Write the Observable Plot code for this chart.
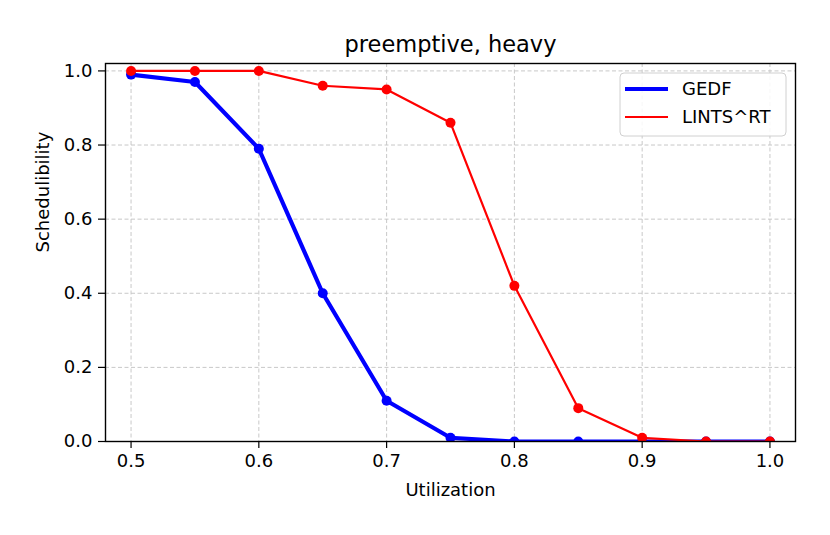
<!DOCTYPE html>
<html>
<head>
<meta charset="utf-8">
<script src="https://cdn.jsdelivr.net/npm/d3@7"></script>
<script src="https://cdn.jsdelivr.net/npm/@observablehq/plot@0.6"></script>
<style>
  body { margin: 0; background: #fff; }
  #chart { width: 830px; height: 535px; }
</style>
</head>
<body>
<div id="chart"></div>
<script>
const utilization = [0.5, 0.55, 0.6, 0.65, 0.7, 0.75, 0.8, 0.85, 0.9, 0.95, 1.0];
const gedf = [0.99, 0.97, 0.79, 0.40, 0.11, 0.01, 0, 0, 0, 0, 0];
const lints = [1.0, 1.0, 1.0, 0.96, 0.95, 0.86, 0.42, 0.09, 0.01, 0, 0];
const xTicks = [0.5, 0.6, 0.7, 0.8, 0.9, 1.0];
const yTicks = [0.0, 0.2, 0.4, 0.6, 0.8, 1.0];
const seriesNames = ["GEDF", "LINTS^RT"];
const seriesColors = ["#0000ff", "#ff0000"];

const gedfData = utilization.map((u, i) => ({u, v: gedf[i]}));
const lintsData = utilization.map((u, i) => ({u, v: lints[i]}));

const font = "DejaVu Sans, sans-serif";

const chart = Plot.plot({
  width: 830,
  height: 535,
  marginLeft: 105,
  marginRight: 35,
  marginTop: 63,
  marginBottom: 94,
  style: {fontFamily: font, fontSize: "18px", color: "#000", background: "#fff"},
  x: {domain: [0.48, 1.02]},
  y: {domain: [0, 1.02]},
  marks: [
    Plot.gridX(xTicks, {stroke: "#c8c8c8", strokeOpacity: 1, strokeWidth: 1, strokeDasharray: "4,2.5"}),
    Plot.gridY(yTicks, {stroke: "#c8c8c8", strokeOpacity: 1, strokeWidth: 1, strokeDasharray: "4,2.5"}),
    Plot.line(gedfData, {x: "u", y: "v", stroke: seriesColors[0], strokeWidth: 4.2, clip: true}),
    Plot.dot(gedfData, {x: "u", y: "v", r: 5, fill: seriesColors[0], clip: true}),
    Plot.line(lintsData, {x: "u", y: "v", stroke: seriesColors[1], strokeWidth: 2.2, clip: true}),
    Plot.dot(lintsData, {x: "u", y: "v", r: 5, fill: seriesColors[1], clip: true}),
    Plot.frame({stroke: "#000", strokeWidth: 1.4}),
    Plot.axisX(xTicks, {tickFormat: d3.format(".1f"), tickSize: 7, tickPadding: 6, fontSize: 18, label: null, strokeWidth: 1.2}),
    Plot.axisY(yTicks, {tickFormat: d3.format(".1f"), tickSize: 7, tickPadding: 6, fontSize: 18, label: null, strokeWidth: 1.2}),
    Plot.text(["Utilization"], {frameAnchor: "bottom", dy: 54, fontSize: 18, fill: "#000"}),
    Plot.text(["Schedulibility"], {frameAnchor: "left", dx: -62, rotate: -90, fontSize: 18, fill: "#000"}),
    Plot.text(["preemptive, heavy"], {frameAnchor: "top", dy: -27, fontSize: 22.5, fill: "#000"})
  ]
});

// Legend overlay inside the plot frame (upper right)
const svg = d3.select(chart);
const lg = svg.append("g").attr("transform", "translate(620,73)")
  .style("font-family", font).attr("text-anchor", "start");
lg.append("rect").attr("x", 0).attr("y", 0).attr("width", 166).attr("height", 63)
  .attr("rx", 4).attr("fill", "#fff").attr("fill-opacity", 0.85).attr("stroke", "#d0d0d0").attr("stroke-width", 1);
const widths = [4.2, 2.2];
seriesNames.forEach((name, i) => {
  const y = 16 + i * 28;
  lg.append("line").attr("x1", 5).attr("x2", 48).attr("y1", y).attr("y2", y)
    .attr("stroke", seriesColors[i]).attr("stroke-width", widths[i]);
  lg.append("text").attr("x", 62).attr("y", y).attr("dy", "0.35em")
    .attr("text-anchor", "start")
    .attr("font-size", 18).attr("fill", "#000").text(name);
});

document.getElementById("chart").appendChild(chart);
</script>
</body>
</html>
